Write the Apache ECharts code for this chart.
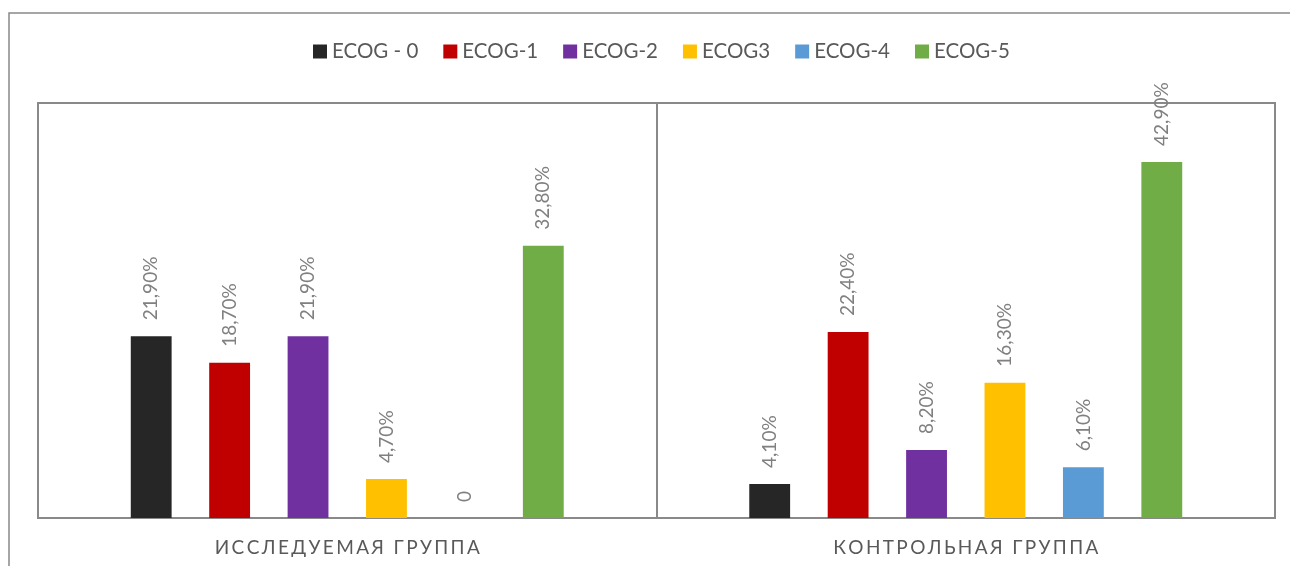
<!DOCTYPE html>
<html>
<head>
<meta charset="utf-8">
<script src="https://cdn.jsdelivr.net/npm/echarts@6/dist/echarts.min.js"></script>
<style>
  html, body { margin: 0; padding: 0; background: #fff; }
  #chart { width: 1290px; height: 566px; }
</style>
</head>
<body>
<div id="chart"></div>
<script>
// Groups on the x axis
const groups = ['ИССЛЕДУЕМАЯ ГРУППА', 'КОНТРОЛЬНАЯ ГРУППА'];

// Share of patients per ECOG status, % (study group, control group)
const ecog0 = [21.9, 4.1];
const ecog1 = [18.7, 22.4];
const ecog2 = [21.9, 8.2];
const ecog3 = [4.7, 16.3];
const ecog4 = [0, 6.1];
const ecog5 = [32.8, 42.9];

const seriesNames = ['ECOG - 0', 'ECOG-1', 'ECOG-2', 'ECOG3', 'ECOG-4', 'ECOG-5'];
const seriesValues = [ecog0, ecog1, ecog2, ecog3, ecog4, ecog5];
const seriesColors = ['#262626', '#C00000', '#7030A0', '#FFC000', '#5B9BD5', '#70AD47'];

const FONT = 'Lato, "Open Sans", sans-serif';
const frameColor = '#898989';

function pct(v) {
  return v === 0 ? '0' : v.toFixed(2).replace('.', ',') + '%';
}

function spaced(s) {
  return s.split('').join('\u2009');
}

const chart = echarts.init(document.getElementById('chart'), null, { renderer: 'canvas' });

chart.setOption({
  animation: false,
  backgroundColor: '#fff',
  graphic: [{
    type: 'rect',
    shape: { x: 9, y: 13, width: 1400, height: 700 },
    style: { fill: 'none', stroke: frameColor, lineWidth: 1.5 },
    silent: true,
    z: -1
  }],
  legend: {
    left: 308,
    top: 36,
    icon: 'rect',
    itemWidth: 14,
    itemHeight: 14,
    itemGap: 25,
    textStyle: { color: '#595959', fontSize: 20.5, fontFamily: FONT },
    data: seriesNames
  },
  grid: {
    left: 38, right: 15, top: 103, bottom: 48,
    show: true,
    borderColor: frameColor,
    borderWidth: 2,
    containLabel: false
  },
  xAxis: {
    type: 'category',
    data: groups,
    axisLine: { show: false },
    axisTick: { show: false },
    splitLine: { show: true, lineStyle: { color: frameColor, width: 2 } },
    axisLabel: {
      color: '#595959',
      fontSize: 19,
      fontFamily: FONT,
      margin: 20,
      formatter: spaced
    }
  },
  yAxis: {
    type: 'value',
    min: 0,
    max: 50,
    show: false,
    splitLine: { show: false }
  },
  series: seriesNames.map((name, i) => ({
    name: name,
    type: 'bar',
    data: seriesValues[i],
    itemStyle: { color: seriesColors[i] },
    barGap: '92%',
    barCategoryGap: '30%',
    label: {
      show: true,
      position: 'top',
      rotate: 90,
      align: 'left',
      verticalAlign: 'middle',
      distance: 16,
      color: '#808080',
      fontSize: 19,
      fontFamily: FONT,
      formatter: p => pct(p.value)
    }
  }))
});
</script>
</body>
</html>
